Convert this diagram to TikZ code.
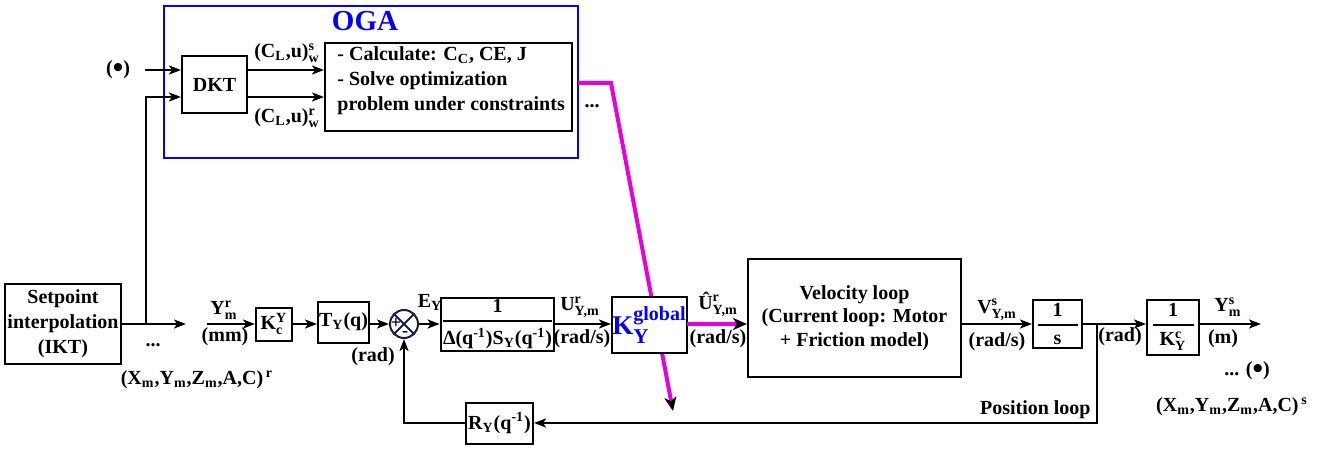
\documentclass[tikz,border=0pt]{standalone}
\usepackage{amsmath}
\usepackage{fontspec}
\setmainfont{Liberation Serif}
\usetikzlibrary{arrows.meta,calc}
\definecolor{navy}{RGB}{20,30,70}
\definecolor{mag}{RGB}{230,0,220}
\definecolor{oblue}{RGB}{0,0,255}
\newcommand{\bigdot}{\raisebox{-1.4pt}{\scalebox{1.5}{\textbullet}}}
\begin{document}
\begin{tikzpicture}[x=0.5pt,y=-0.5pt,
  every node/.style={font=\bfseries\fontsize{10}{12.5}\selectfont, inner sep=0pt, align=center},
  blk/.style={draw, line width=1pt, fill=white},
  ln/.style={line width=1pt},
  arr/.style={line width=1pt, -{Stealth[length=6pt,width=4.5pt,inset=1.5pt]}},
  mag/.style={line width=2pt, draw=mag},
  magtip/.style={-{Stealth[length=7pt,width=6pt,inset=2pt,black]}}
]
\useasboundingbox (0,0) rectangle (1323,449);

% ---------- OGA block ----------
\node[blk, draw=oblue, fill=none, minimum width=207pt, minimum height=76pt] (oga) at (371,82) {};
\node[font=\bfseries\fontsize{14.5}{14.5}\selectfont, text=oblue] (ogat) at (365,21) {OGA};
\node[blk, minimum width=32.5pt, minimum height=28.5pt] (dkt) at (214.5,84.5) {DKT};
\node[blk, minimum width=123.5pt, minimum height=44pt] (calc) at (448.5,87) {};
\node[anchor=north west, align=left] (calct) at (337,46.5) {- Calculate: C$_{\text{C}}$, CE, J\\- Solve optimization\\problem under constraints};
\node (lcs) at (287,53) {(C$_{\text{L}}$,u)$^{\text{s}}_{\text{w}}$};
\node (lcr) at (287,118) {(C$_{\text{L}}$,u)$^{\text{r}}_{\text{w}}$};
\node (dot1) at (118,70) {(\bigdot)};
\node (dots1) at (592,106) {...};

\coordinate (dotout) at (145,70);
\coordinate (p70) at (0,70);
\coordinate (p97) at (0,97);
\draw[arr] (dotout) -- (dkt.west |- p70);
\draw[arr] (dkt.east |- p70) -- (calc.west |- p70);
\draw[arr] (dkt.east |- p97) -- (calc.west |- p97);

% ---------- magenta diagonal ----------
\coordinate (m0) at (578,83);
\coordinate (m1) at (611,83);
\coordinate (m2) at (673,411);
\draw[mag, magtip] (m0) -- (m1) -- (m2);

% ---------- main row ----------
\node[blk, minimum width=58pt, minimum height=40pt] (setp) at (63,324) {Setpoint\\interpolation\\(IKT)};
\coordinate (br1) at (146,324);
\coordinate (a1) at (186,324);
\draw[arr] (setp.east) -- (a1);
\draw[arr] (br1) |- (dkt.west |- p97);
\node (dots2) at (153,345) {...};
\node (xr) at (197,380) {(X$_{\text{m}}$,Y$_{\text{m}}$,Z$_{\text{m}}$,A,C)$^{\,\text{r}}$};

\coordinate (ym0) at (207,324);
\node[blk, minimum width=18pt, minimum height=16.5pt] (kc) at (274,324) {K$^{\text{Y}}_{\text{c}}$};
\draw[arr] (ym0) -- (kc.west);
\node (ymr) at (224,310) {Y$^{\text{r}}_{\text{m}}$};
\node (mm) at (225,337) {(mm)};

\node[blk, minimum width=25.5pt, minimum height=20.5pt] (ty) at (343.5,322) {T$_{\text{Y}}$(q)};
\draw[arr] (kc.east) -- (kc.east -| ty.west);

\node[circle, draw=navy, line width=1pt, minimum size=14pt] (sum) at (404,324) {};
\draw[navy, line width=1pt] (sum.north west) -- (sum.south east) (sum.north east) -- (sum.south west);
\node[font=\bfseries\fontsize{9}{9}\selectfont] (plus) at (396,323) {+};
\node[font=\bfseries\fontsize{9}{9}\selectfont] (minus) at (405,334) {-};
\draw[arr] (ty.east |- sum.west) -- (sum.west);
\node (rad1) at (373,357) {(rad)};
\node (ey) at (430,302) {E$_{\text{Y}}$};

\node[blk, minimum width=53.5pt, minimum height=26.5pt] (tf) at (497.5,324.5) {$\genfrac{}{}{1pt}{0}{\text{1}}{\text{Δ(q$^{\text{-1}}$)S$_{\text{Y}}$(q$^{\text{-1}}$)}}$};
\draw[arr] (sum.east) -- (sum.east -| tf.west);

\node[blk, minimum width=37.5pt, minimum height=28pt, text=oblue] (kg) at (649.5,325) {\fontsize{13.5}{13.5}\selectfont K$^{\text{\fontsize{10}{10}\selectfont global}}_{\text{\fontsize{10.5}{10.5}\selectfont Y}}$};
\draw[arr] (tf.east |- sum.east) -- (tf.east |- sum.east -| kg.west);
\node (ur) at (580,307) {U$^{\text{r}}_{\text{Y,m}}$};
\node (rads1) at (582,339) {(rad/s)};

\node[blk, minimum width=106.5pt, minimum height=59pt, font=\bfseries\fontsize{10}{11.75}\selectfont] (vel) at (854.5,318) {Velocity loop\\(Current loop: Motor\\+ Friction model)};
\coordinate (kgo) at (687,324);
\draw[mag, magtip] (kgo) -- (kgo -| vel.west);
\node (uh) at (718,304) {Û$^{\text{r}}_{\text{Y,m}}$};
\node (rads2) at (718,339) {(rad/s)};

\node[blk, minimum width=24.5pt, minimum height=24pt] (one) at (1057.5,324) {$\genfrac{}{}{1pt}{0}{\makebox[20pt]{1}}{\makebox[20pt]{s}}$};
\draw[arr] (vel.east |- one.west) -- (one.west);
\node (vs) at (997,310) {V$^{\text{s}}_{\text{Y,m}}$};
\node (rads3) at (997,342) {(rad/s)};

\node[blk, minimum width=26pt, minimum height=27.5pt] (kyc) at (1173,327) {$\genfrac{}{}{1pt}{0}{\makebox[20.5pt]{1}}{\makebox[20.5pt]{K$^{\text{c}}_{\text{Y}}$}}$};
\draw[arr] (one.east) -- (one.east -| kyc.west);
\coordinate (br2) at (1097,324);
\node (rad2) at (1120,337) {(rad)};
\coordinate (yout) at (1261,324);
\draw[arr] (kyc.east |- yout) -- (yout);
\node (yms) at (1228,307) {Y$^{\text{s}}_{\text{m}}$};
\node (mlab) at (1223,339) {(m)};
\node (dots3) at (1247,371) {... (\bigdot)};
\node (xs) at (1232,407) {(X$_{\text{m}}$,Y$_{\text{m}}$,Z$_{\text{m}}$,A,C)$^{\,\text{s}}$};

% ---------- feedback ----------
\node[blk, minimum width=33.5pt, minimum height=20.5pt] (ry) at (499.5,423) {R$_{\text{Y}}$(q$^{\text{-1}}$)};
\draw[arr] (br2) |- (ry.east);
\draw[arr] (ry.west) -| (sum.south);
\node[anchor=east] (pl) at (1091,410) {Position loop};
\end{tikzpicture}
\end{document}
